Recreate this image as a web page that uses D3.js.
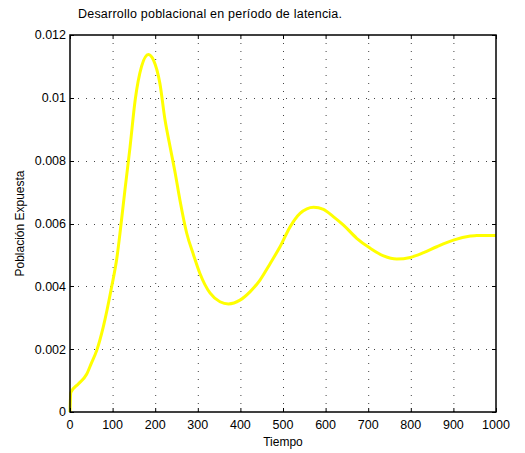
<!DOCTYPE html>
<html>
<head>
<meta charset="utf-8">
<script src="https://cdn.jsdelivr.net/npm/d3@7"></script>
<style>
  body { margin: 0; background: #fff; }
  svg text { font-family: "Liberation Sans", Arial, Helvetica, sans-serif; fill: #000; }
</style>
</head>
<body>
<svg id="viz" width="525" height="453"></svg>
<script>
// valores
const tiempo = [0, 2, 20, 39, 50, 63, 78, 98, 110, 117, 129, 141, 153, 168, 184, 196, 211, 223, 235, 247, 258, 274, 290, 305, 329, 352, 372, 399, 423, 446, 470, 493, 517, 540, 572, 595, 618, 642, 673, 705, 736, 767, 799, 830, 861, 900, 940, 955, 1000];
const expuesta = [0, 0.00062, 0.0009, 0.0012, 0.00155, 0.00197, 0.0027, 0.004, 0.0049, 0.00565, 0.00707, 0.00844, 0.00993, 0.0110, 0.01138, 0.0112, 0.01046, 0.0093, 0.00844, 0.0076, 0.00675, 0.00569, 0.0050, 0.00441, 0.00378, 0.00351, 0.00344, 0.00356, 0.00383, 0.0042, 0.00473, 0.00526, 0.0059, 0.00632, 0.00652, 0.00645, 0.00622, 0.00595, 0.00553, 0.00521, 0.00497, 0.00487, 0.00492, 0.00507, 0.00526, 0.00547, 0.0056, 0.00562, 0.00562];
const xTicks = [0, 100, 200, 300, 400, 500, 600, 700, 800, 900, 1000];
const yTicks = [0, 0.002, 0.004, 0.006, 0.008, 0.01, 0.012];
const yTickLabels = ["0", "0.002", "0.004", "0.006", "0.008", "0.01", "0.012"];

const svg = d3.select("#viz");
const mLeft = 70, mRight = 496, mTop = 35, mBottom = 412;

const x = d3.scaleLinear().domain([0, 1000]).range([mLeft, mRight]);
const y = d3.scaleLinear().domain([0, 0.012]).range([mBottom, mTop]);

// grid
const grid = svg.append("g").attr("stroke", "#444").attr("stroke-width", 1).attr("stroke-dasharray", "1,7");
xTicks.slice(1, -1).forEach(t => {
    grid.append("line").attr("x1", x(t) + 0.5).attr("x2", x(t) + 0.5).attr("y1", mTop).attr("y2", mBottom);
});
yTicks.slice(1, -1).forEach(t => {
    grid.append("line").attr("y1", Math.round(y(t)) + 0.5).attr("y2", Math.round(y(t)) + 0.5).attr("x1", mLeft).attr("x2", mRight);
});

// curve
const line = d3.line()
    .x((d, i) => x(tiempo[i]))
    .y(d => y(d))
    .curve(d3.curveMonotoneX);
svg.append("path")
    .datum(expuesta)
    .attr("d", line)
    .attr("fill", "none")
    .attr("stroke", "#ffff00")
    .attr("stroke-width", 3)
    .attr("stroke-linejoin", "round");

// inward ticks on all four sides
const ticks = svg.append("g").attr("stroke", "#000").attr("stroke-width", 1);
xTicks.forEach(t => {
    ticks.append("line").attr("x1", x(t) + 0.5).attr("x2", x(t) + 0.5).attr("y1", mBottom).attr("y2", mBottom - 4);
    ticks.append("line").attr("x1", x(t) + 0.5).attr("x2", x(t) + 0.5).attr("y1", mTop).attr("y2", mTop + 4);
});
yTicks.forEach(t => {
    const yy = Math.round(y(t)) + 0.5;
    ticks.append("line").attr("y1", yy).attr("y2", yy).attr("x1", mLeft).attr("x2", mLeft + 4);
    ticks.append("line").attr("y1", yy).attr("y2", yy).attr("x1", mRight).attr("x2", mRight - 4);
});

// box
svg.append("rect")
    .attr("x", mLeft).attr("y", mTop)
    .attr("width", mRight - mLeft).attr("height", mBottom - mTop)
    .attr("fill", "none").attr("stroke", "#000").attr("stroke-width", 1.5);

// tick labels
svg.append("g").selectAll("text").data(xTicks).join("text")
    .attr("x", d => x(d))
    .attr("y", 429)
    .attr("text-anchor", "middle")
    .style("font-size", "12.5px")
    .text(d => d);

svg.append("g").selectAll("text").data(yTicks).join("text")
    .attr("x", 66)
    .attr("y", d => y(d))
    .attr("dy", "0.35em")
    .attr("text-anchor", "end")
    .style("font-size", "12.5px")
    .text((d, i) => yTickLabels[i]);

// labels
svg.append("text")
    .attr("x", (mLeft + mRight) / 2).attr("y", 446)
    .attr("text-anchor", "middle")
    .style("font-size", "12px")
    .text("Tiempo");

svg.append("text")
    .attr("transform", `translate(24,${(mTop + mBottom) / 2}) rotate(-90)`)
    .attr("text-anchor", "middle")
    .style("font-size", "12px")
    .text("Población Expuesta");

svg.append("text")
    .attr("x", 78).attr("y", 18)
    .style("font-size", "12.5px")
    .attr("textLength", 264)
    .attr("lengthAdjust", "spacing")
    .text("Desarrollo poblacional en período de latencia.");
</script>
</body>
</html>
